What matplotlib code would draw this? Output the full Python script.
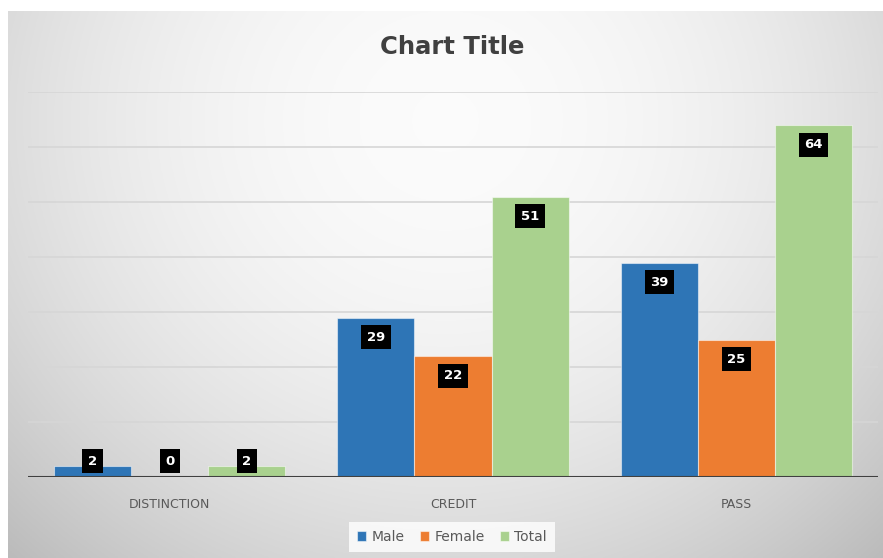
import numpy as np
import matplotlib.pyplot as plt

categories = ['DISTINCTION', 'CREDIT', 'PASS']
series_names = ['Male', 'Female', 'Total']
male = [2, 29, 39]
female = [0, 22, 25]
total = [2, 51, 64]
colors = ['#2E75B6', '#ED7D31', '#A9D18E']

fig = plt.figure(figsize=(8.83, 5.58), dpi=100, facecolor='white')

# soft radial gradient behind the chart area
bg = fig.add_axes([8 / 883, 0, 875 / 883, 1 - 11 / 558], zorder=-1)
gx, gy = np.meshgrid(np.linspace(0, 1, 400), np.linspace(0, 1, 300))
d2 = ((gx - 0.5) / 0.6) ** 2 + ((gy - 0.2) / 0.9) ** 2
shade = np.clip(0.985 - 0.17 * d2, 0, 1)
bg.imshow(np.dstack([shade] * 3), aspect='auto', extent=(0, 1, 1, 0))
bg.set_xlim(0, 1)
bg.set_ylim(1, 0)
bg.axis('off')

ax = fig.add_axes([28 / 883, 81 / 558, 850 / 883, 385 / 558])
ax.set_facecolor('none')

x = np.arange(len(categories))
w = 0.272
for i, (name, vals) in enumerate(zip(series_names, [male, female, total])):
    pos = x + (i - 1) * w
    ax.bar(pos, vals, width=w, color=colors[i], edgecolor=(1, 1, 1, 0.5),
           linewidth=0.8, label=name, zorder=3)
    for px, v in zip(pos, vals):
        ax.text(px, max(v - 3.6, 2.9), str(v), ha='center', va='center',
                color='white', fontsize=9.5, fontweight='bold', zorder=5,
                bbox=dict(boxstyle='square,pad=0.42', fc='black', ec='none'))

ax.set_xlim(-0.5, 2.5)
ax.set_ylim(0, 70)
for g in range(10, 71, 10):
    ax.axhline(g, color='#d6d6d6', lw=1.2, zorder=1)
ax.axhline(0, color='#404040', lw=1.5, zorder=4)

ax.set_yticks([])
ax.set_xticks(x)
ax.set_xticklabels(categories, fontsize=9, color='#595959')
ax.tick_params(axis='x', length=0, pad=15)
for s in ax.spines.values():
    s.set_visible(False)

fig.text(452 / 883, 1 - 47 / 558, 'Chart Title', ha='center', va='center',
         fontsize=17.5, fontweight='bold', color='#404040')

leg = fig.legend(loc='center', bbox_to_anchor=(452 / 883, 1 - 537 / 558),
                 ncol=3, frameon=True, fontsize=10, handlelength=0.65,
                 handleheight=0.65, handletextpad=0.4, columnspacing=1.1,
                 borderpad=0.55, fancybox=False)
leg.get_frame().set_facecolor((1, 1, 1, 0.25))
leg.get_frame().set_edgecolor('none')
for t in leg.get_texts():
    t.set_color('#595959')

fig.savefig('out.png', dpi=100)
